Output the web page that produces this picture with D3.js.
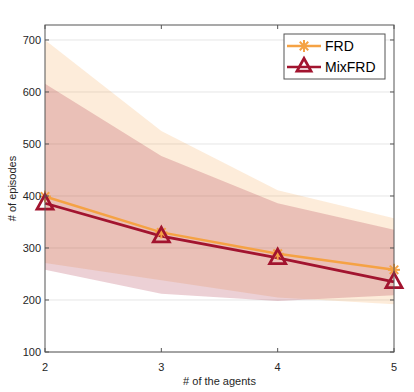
<!DOCTYPE html>
<html><head><meta charset="utf-8">
<script src="https://cdn.jsdelivr.net/npm/d3@7"></script>
<style>body{margin:0;background:#fff}svg{display:block}text{font-family:"Liberation Sans",Arial,sans-serif}</style>
</head><body><svg id="c" width="414" height="392"></svg>
<script>
const agents = [2, 3, 4, 5];
const frdMean = [399, 330, 289, 258];
const frdUpper = [700, 525, 411, 357];
const frdLower = [271, 238, 205, 192];
const mixMean = [386, 323, 281, 235];
const mixUpper = [616, 477, 386, 335];
const mixLower = [258, 212, 198, 209];
const yTicks = [100, 200, 300, 400, 500, 600, 700];
const xTicks = [2, 3, 4, 5];
const seriesNames = ["FRD", "MixFRD"];

const svg = d3.select("#c");
const L = 45, R = 394, T = 25, B = 352;
const x = d3.scaleLinear().domain([2, 5]).range([L, R]);
const y = d3.scaleLinear().domain([100, 728.8]).range([B, T]);
const orange = "#F5A244", red = "#A2142F";

// grid
svg.append("g").selectAll("line").data(yTicks).join("line")
  .attr("x1", L).attr("x2", R).attr("y1", d => y(d)).attr("y2", d => y(d))
  .attr("stroke", "#e6e6e6").attr("stroke-width", 1);

const area = (lo, hi) => d3.area().x((d, i) => x(agents[i])).y0((d, i) => y(lo[i])).y1((d, i) => y(hi[i]))(agents);
svg.append("path").attr("d", area(frdLower, frdUpper)).attr("fill", orange).attr("fill-opacity", 0.2);
svg.append("path").attr("d", area(mixLower, mixUpper)).attr("fill", red).attr("fill-opacity", 0.2);

const line = vals => d3.line().x((d, i) => x(agents[i])).y((d, i) => y(vals[i]))(agents);
svg.append("path").attr("d", line(frdMean)).attr("fill", "none").attr("stroke", orange).attr("stroke-width", 2.5);
svg.append("path").attr("d", line(mixMean)).attr("fill", "none").attr("stroke", red).attr("stroke-width", 2.8);

function asterisk(g, cx, cy, r, col) {
  const a = [0, 45, 90, 135];
  a.forEach(t => {
    const rad = t * Math.PI / 180;
    g.append("line").attr("x1", cx - r * Math.cos(rad)).attr("y1", cy - r * Math.sin(rad))
      .attr("x2", cx + r * Math.cos(rad)).attr("y2", cy + r * Math.sin(rad))
      .attr("stroke", col).attr("stroke-width", 2);
  });
}
function triangle(g, cx, cy, s, col) {
  const h = s * 0.9;
  g.append("path").attr("d", `M${cx},${cy - h * 0.6}L${cx + s / 2},${cy + h * 0.4}L${cx - s / 2},${cy + h * 0.4}Z`)
    .attr("fill", "none").attr("stroke", col).attr("stroke-width", 2.8).attr("stroke-linejoin", "miter");
}
const mk = svg.append("g");
agents.forEach((a, i) => asterisk(mk, x(a), y(frdMean[i]), 6, orange));
agents.forEach((a, i) => triangle(mk, x(a), y(mixMean[i]), 16, red));

// box & axes
const ax = svg.append("g").attr("stroke", "#555").attr("stroke-width", 1);
ax.append("rect").attr("x", L).attr("y", T).attr("width", R - L).attr("height", B - T).attr("fill", "none");
yTicks.forEach(t => {
  ax.append("line").attr("x1", L).attr("x2", L + 4).attr("y1", y(t)).attr("y2", y(t));
  ax.append("line").attr("x1", R).attr("x2", R - 4).attr("y1", y(t)).attr("y2", y(t));
});
xTicks.forEach(t => {
  ax.append("line").attr("x1", x(t)).attr("x2", x(t)).attr("y1", B).attr("y2", B - 4);
  ax.append("line").attr("x1", x(t)).attr("x2", x(t)).attr("y1", T).attr("y2", T + 4);
});
svg.append("g").selectAll("text").data(yTicks).join("text")
  .attr("x", L - 4).attr("y", d => y(d)).attr("dy", "0.35em").attr("text-anchor", "end")
  .attr("font-size", 11).attr("fill", "#262626").text(d => d);
svg.append("g").selectAll("text").data(xTicks).join("text")
  .attr("x", d => x(d)).attr("y", B + 15).attr("dy", "0.35em").attr("text-anchor", "middle")
  .attr("font-size", 11).attr("fill", "#262626").text(d => d);
svg.append("text").attr("x", (L + R) / 2).attr("y", 381).attr("dy", "0.35em").attr("text-anchor", "middle")
  .attr("font-size", 11).attr("fill", "#262626").text("# of the agents");
svg.append("text").attr("transform", `translate(12,${(T + B) / 2}) rotate(-90)`).attr("dy", "0.35em")
  .attr("text-anchor", "middle").attr("font-size", 11).attr("fill", "#262626").text("# of episodes");

// legend
const lg = svg.append("g");
lg.append("rect").attr("x", 284).attr("y", 34).attr("width", 101).attr("height", 45)
  .attr("fill", "#fff").attr("stroke", "#555").attr("stroke-width", 1);
const rows = [{c: orange, y: 46}, {c: red, y: 67}];
rows.forEach((r, i) => {
  lg.append("line").attr("x1", 287).attr("x2", 321).attr("y1", r.y).attr("y2", r.y)
    .attr("stroke", r.c).attr("stroke-width", 2.5);
  if (i === 0) asterisk(lg, 304, r.y, 6, r.c); else triangle(lg, 304, r.y - 1, 14, r.c);
  lg.append("text").attr("x", 325).attr("y", r.y).attr("dy", "0.35em").attr("font-size", 14)
    .attr("fill", "#000").text(seriesNames[i]);
});
</script></body></html>
